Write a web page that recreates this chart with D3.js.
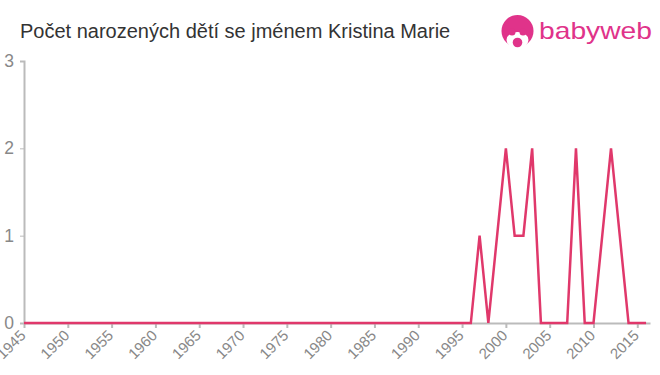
<!DOCTYPE html>
<html>
<head>
<meta charset="utf-8">
<script src="https://cdn.jsdelivr.net/npm/d3@7"></script>
<style>
  body { margin: 0; background: #fff; }
  text { font-family: "Liberation Sans", Arial, sans-serif; }
</style>
</head>
<body>
<svg width="660" height="375"></svg>
<script>
let width = 660, height = 375;
let title = 'Počet narozených dětí se jménem Kristina Marie';

// years 1945..2016, counts
let years = d3.range(1945, 2017);
let counts = [
  0,0,0,0,0, 0,0,0,0,0, 0,0,0,0,0, 0,0,0,0,0,   // 1945-1964
  0,0,0,0,0, 0,0,0,0,0, 0,0,0,0,0, 0,0,0,0,0,   // 1965-1984
  0,0,0,0,0, 0,0,0,0,0, 0,0,                    // 1985-1996
  1,0,1,2,1,1,2,0,0,0,0,2,0,0,1,2,1,0,0,0       // 1997-2016
];
let xTicks = d3.range(1945, 2016, 5);
let yTicks = [0, 1, 2, 3];

let data = years.map(function(y, i) { return { year: y, value: counts[i] }; });

let svg = d3.select('svg');
let x = d3.scaleLinear().domain([1945, 2016.45]).range([24, 650]);
let y = d3.scaleLinear().domain([0, 3]).range([323, 61]);

svg.append('text')
  .attr('x', 20).attr('y', 38)
  .attr('font-size', 20)
  .attr('fill', '#333')
  .text(title);

// logo: pink head with a white face cut out, then the word
let logo = svg.append('g').attr('fill', '#e0338a');
logo.append('circle').attr('cx', 517.5).attr('cy', 31).attr('r', 16);
logo.append('ellipse').attr('cx', 517.5).attr('cy', 40).attr('rx', 11).attr('ry', 8).attr('fill', '#fff');
logo.append('circle').attr('cx', 512).attr('cy', 32).attr('r', 3.5);
logo.append('circle').attr('cx', 523).attr('cy', 32).attr('r', 3.5);
logo.append('circle').attr('cx', 517.5).attr('cy', 42.5).attr('r', 4.8);
logo.append('text')
  .attr('x', 539).attr('y', 39)
  .attr('font-size', 24)
  .attr('font-family', '"DejaVu Sans", sans-serif')
  .attr('textLength', 113)
  .attr('lengthAdjust', 'spacingAndGlyphs')
  .text('babyweb');

// y axis
let yAxis = svg.append('g')
  .attr('transform', 'translate(24,0)')
  .call(d3.axisLeft(y).tickValues(yTicks).tickSize(4).tickPadding(6).tickFormat(d3.format('d')));
yAxis.select('.domain').attr('stroke', '#bbb').attr('stroke-width', 2);
yAxis.selectAll('.tick line').attr('stroke', '#bbb');
yAxis.selectAll('.tick text')
  .attr('fill', '#888')
  .attr('font-size', 17.5)
  .attr('font-family', '"Liberation Sans", Arial, sans-serif');

// x axis
let xAxis = svg.append('g')
  .attr('transform', 'translate(0,323)')
  .call(d3.axisBottom(x).tickValues(xTicks).tickSize(5).tickSizeOuter(0).tickFormat(d3.format('d')));
xAxis.select('.domain').attr('stroke', '#bbb').attr('stroke-width', 2);
xAxis.selectAll('.tick line').attr('stroke', '#bbb').attr('stroke-width', 2);
xAxis.selectAll('.tick text')
  .attr('fill', '#888')
  .attr('font-size', 15)
  .attr('font-family', '"Liberation Sans", Arial, sans-serif')
  .attr('text-anchor', 'end')
  .attr('dy', null)
  .attr('x', -8)
  .attr('y', 11)
  .attr('transform', 'rotate(-45)');

// line
let line = d3.line()
  .x(function(d) { return x(d.year); })
  .y(function(d) { return y(d.value); });

svg.append('path')
  .datum(data)
  .attr('fill', 'none')
  .attr('stroke', '#e0386b')
  .attr('stroke-width', 2.5)
  .attr('stroke-linejoin', 'miter')
  .attr('d', line);
</script>
</body>
</html>
